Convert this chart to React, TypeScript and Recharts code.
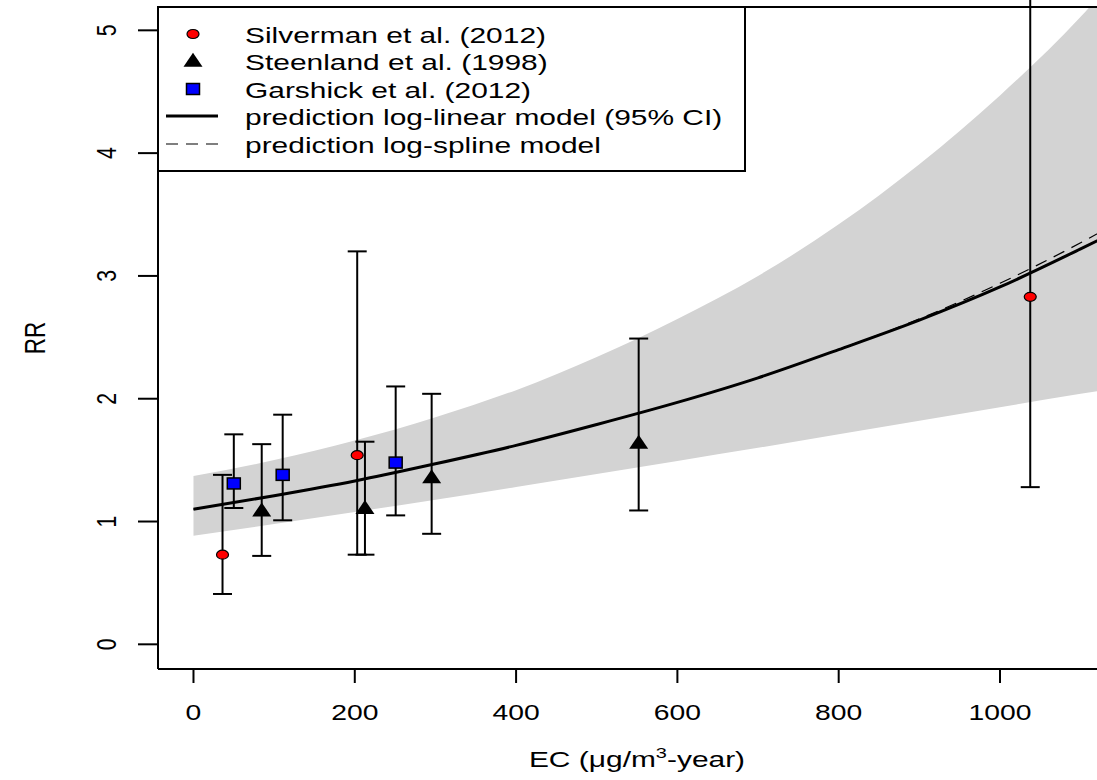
import React from 'react';
import { ComposedChart, Area, Line, Scatter, ErrorBar, XAxis, YAxis, ReferenceLine } from 'recharts';

// prediction curves
const curveX = [0, 100, 200, 300, 400, 500, 600, 700, 800, 900, 1000, 1100, 1150];
const fitLogLinear = [1.1, 1.21, 1.33, 1.47, 1.62, 1.79, 1.97, 2.17, 2.4, 2.64, 2.91, 3.22, 3.38];
const fitLogSpline = [1.1, 1.21, 1.33, 1.47, 1.62, 1.79, 1.97, 2.17, 2.4, 2.65, 2.94, 3.27, 3.45];
const ciLower = [0.885, 0.98, 1.078, 1.178, 1.281, 1.387, 1.493, 1.6, 1.71, 1.82, 1.93, 2.04, 2.09];
const ciUpper = [1.37, 1.5, 1.66, 1.85, 2.07, 2.34, 2.65, 3.0, 3.42, 3.91, 4.47, 5.11, 5.48];

// study estimates with 95% CI
const silvermanX = [36, 203, 1037.5];
const silvermanRR = [0.73, 1.54, 2.83];
const silvermanLo = [0.41, 0.73, 1.28];
const silvermanHi = [1.38, 3.2, 6.5];

const steenlandX = [84.6, 212.6, 295.3, 552];
const steenlandRR = [1.08, 1.1, 1.35, 1.63];
const steenlandLo = [0.72, 0.73, 0.9, 1.09];
const steenlandHi = [1.63, 1.65, 2.04, 2.49];

const garshickX = [50, 110.6, 250.7];
const garshickRR = [1.31, 1.38, 1.48];
const garshickLo = [1.11, 1.01, 1.05];
const garshickHi = [1.71, 1.87, 2.1];

const xTicks = [0, 200, 400, 600, 800, 1000];
const yTicks = [0, 1, 2, 3, 4, 5];

const legendLabels = [
  'Silverman et al. (2012)',
  'Steenland et al. (1998)',
  'Garshick et al. (2012)',
  'prediction log-linear model (95% CI)',
  'prediction log-spline model',
];

const X_MIN = -44;
const X_MAX = 1148.8;
const Y_MIN = -0.201;
const Y_MAX = 5.19;

const FONT = '"Liberation Sans", Arial, sans-serif';
const SX = 1.33; // the original figure is stretched horizontally

const curveData = curveX.map((x, i) => ({
  x,
  linear: fitLogLinear[i],
  spline: fitLogSpline[i],
  lower: ciLower[i],
  upper: ciUpper[i],
}));

const toPoints = (xs: number[], ys: number[], lo: number[], hi: number[]) =>
  xs.map((x, i) => ({ x, y: ys[i], err: [ys[i] - lo[i], hi[i] - ys[i]] }));

const silverman = toPoints(silvermanX, silvermanRR, silvermanLo, silvermanHi);
const steenland = toPoints(steenlandX, steenlandRR, steenlandLo, steenlandHi);
const garshick = toPoints(garshickX, garshickRR, garshickLo, garshickHi);
const allPoints = [...silverman, ...steenland, ...garshick];

const CircleDot = ({ cx, cy }: any) => (
  <ellipse cx={cx} cy={cy} rx={6} ry={4.5} fill="#ff0000" stroke="#000" strokeWidth={1.2} />
);
const TriangleDot = ({ cx, cy }: any) => (
  <polygon points={`${cx},${cy - 9.3} ${cx + 9.5},${cy + 4.7} ${cx - 9.5},${cy + 4.7}`} fill="#000" />
);
const SquareDot = ({ cx, cy }: any) => (
  <rect x={cx - 6.5} y={cy - 5.5} width={13} height={11} fill="#0000ff" stroke="#000" strokeWidth={1.5} />
);
const NoDot = () => <g />;

const XTick = ({ x, payload }: any) => (
  <text
    transform={`translate(${x},720) scale(${SX},1)`}
    textAnchor="middle"
    fontSize={21.3}
    fontFamily={FONT}
    fill="#000"
  >
    {payload.value}
  </text>
);

const YTick = ({ y, payload }: any) => (
  <text
    transform={`translate(116,${y}) scale(${SX},1) rotate(-90)`}
    textAnchor="middle"
    fontSize={21.3}
    fontFamily={FONT}
    fill="#000"
  >
    {payload.value}
  </text>
);

function LegendBox() {
  const rows = [34, 61, 89, 116, 144];
  return (
    <g>
      <rect x={158} y={7} width={587} height={164} fill="#fff" stroke="#000" strokeWidth={2} />
      <CircleDot cx={193} cy={rows[0]} />
      <TriangleDot cx={193} cy={rows[1] + 1} />
      <SquareDot cx={193} cy={rows[2]} />
      <line x1={166} x2={218} y1={rows[3]} y2={rows[3]} stroke="#000" strokeWidth={3} />
      <line x1={166} x2={218} y1={rows[4]} y2={rows[4]} stroke="#000" strokeWidth={1.2} strokeDasharray="12 8" />
      {legendLabels.map((label, i) => (
        <text
          key={label}
          transform={`translate(245,${rows[i] + 9}) scale(${SX},1)`}
          fontSize={22.5}
          fontFamily={FONT}
          fill="#000"
        >
          {label}
        </text>
      ))}
    </g>
  );
}

export default function App() {
  return (
    <div style={{ position: 'fixed', left: 0, top: 0, width: 1097, height: 780, overflow: 'hidden', background: '#fff' }}>
      <div style={{ position: 'absolute', left: 0, top: 0 }}>
        <ComposedChart width={1140} height={780} data={curveData} margin={{ top: 7, right: 20, bottom: 0, left: 0 }}>
          <XAxis
            type="number"
            dataKey="x"
            domain={[X_MIN, X_MAX]}
            ticks={xTicks}
            allowDataOverflow
            height={111}
            tickSize={14}
            tickLine={{ stroke: '#000', strokeWidth: 2 }}
            axisLine={{ stroke: '#000', strokeWidth: 2 }}
            tick={<XTick />}
          />
          <YAxis
            type="number"
            domain={[Y_MIN, Y_MAX]}
            ticks={yTicks}
            allowDataOverflow
            width={158}
            tickSize={20}
            tickLine={{ stroke: '#000', strokeWidth: 2 }}
            axisLine={{ stroke: '#000', strokeWidth: 2 }}
            tick={<YTick />}
          />
          <Area
            type="monotone"
            dataKey={(d: any) => [d.lower, d.upper]}
            fill="#d3d3d3"
            fillOpacity={1}
            stroke="none"
            dot={false}
            activeDot={false}
            isAnimationActive={false}
          />
          <Line type="monotone" dataKey="linear" stroke="#000" strokeWidth={3} dot={false} activeDot={false} isAnimationActive={false} />
          <Line
            type="monotone"
            dataKey="spline"
            stroke="#000"
            strokeWidth={1.2}
            strokeDasharray="12 8"
            dot={false}
            activeDot={false}
            isAnimationActive={false}
          />
          <ReferenceLine y={Y_MAX} stroke="#000" strokeWidth={2} ifOverflow="visible" />
          <Scatter data={allPoints} dataKey="y" shape={<NoDot />} isAnimationActive={false}>
            <ErrorBar dataKey="err" direction="y" width={9.5} stroke="#000" strokeWidth={2} isAnimationActive={false} />
          </Scatter>
          <Scatter data={silverman} dataKey="y" shape={<CircleDot />} isAnimationActive={false} />
          <Scatter data={steenland} dataKey="y" shape={<TriangleDot />} isAnimationActive={false} />
          <Scatter data={garshick} dataKey="y" shape={<SquareDot />} isAnimationActive={false} />
        </ComposedChart>
      </div>
      <svg width={1097} height={780} style={{ position: 'absolute', left: 0, top: 0, pointerEvents: 'none' }}>
        <LegendBox />
        <text
          transform={`translate(45,338) scale(${SX},1) rotate(-90)`}
          textAnchor="middle"
          fontSize={22.5}
          fontFamily={FONT}
          fill="#000"
        >
          RR
        </text>
        <text transform={`translate(637,767) scale(${SX},1)`} textAnchor="middle" fontSize={22.5} fontFamily={FONT} fill="#000">
          EC (μg/m
          <tspan dy={-9} fontSize={15}>3</tspan>
          <tspan dy={9}>-year)</tspan>
        </text>
      </svg>
    </div>
  );
}
